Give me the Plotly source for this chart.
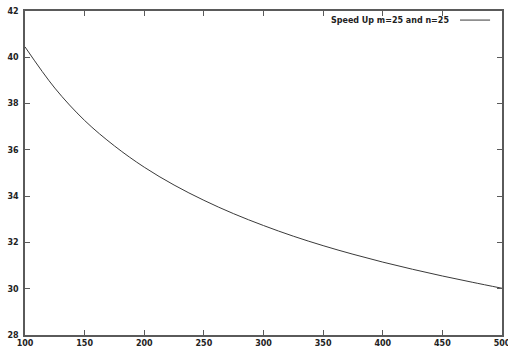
import plotly.graph_objects as go

x_vals = [100, 125, 150, 175, 200, 225, 250, 275, 300, 325, 350, 375, 400, 425, 450, 475, 500]
speedup = [40.45, 38.67, 37.27, 36.17, 35.25, 34.48, 33.82, 33.24, 32.73, 32.27, 31.86, 31.49, 31.15, 30.84, 30.55, 30.28, 30.02]
series_name = "Speed Up m=25 and n=25"
x_ticks = [100, 150, 200, 250, 300, 350, 400, 450, 500]
y_ticks = [28, 30, 32, 34, 36, 38, 40, 42]

line_color = "#3a3a3a"
axis_color = "#5a5a5a"
font = dict(family="DejaVu Sans, Liberation Sans, sans-serif", size=8, color="#222222", weight="bold")

fig = go.Figure()
fig.add_trace(go.Scatter(x=x_vals, y=speedup, mode="lines", name=series_name,
                         line=dict(color=line_color, width=1, shape="spline", smoothing=1.0),
                         showlegend=False))

axis_common = dict(showgrid=False, zeroline=False, showline=True, linecolor=axis_color,
                   linewidth=1.5, mirror="allticks", ticks="inside", ticklen=5,
                   tickcolor=axis_color, tickwidth=1, tickfont=font, automargin=False,
                   ticklabeloverflow="allow")
fig.update_xaxes(range=[100, 500], tickvals=x_ticks, ticktext=[str(v) for v in x_ticks], **axis_common)
fig.update_yaxes(range=[28, 42], tickvals=y_ticks, ticktext=[str(v) for v in y_ticks],
                 ticklabelstandoff=3, **axis_common)

fig.add_annotation(x=0.893, y=0.972, xref="paper", yref="paper", text=series_name,
                   showarrow=False, xanchor="right", yanchor="middle", font=font)
fig.add_shape(type="line", xref="paper", yref="paper", x0=0.912, x1=0.975, y0=0.972, y1=0.972,
              line=dict(color=line_color, width=1))

fig.update_layout(width=508, height=349, margin=dict(l=25, r=6, t=11, b=14),
                  plot_bgcolor="white", paper_bgcolor="white")
fig.write_html("out.html", config={"displayModeBar": False},
               post_script="document.body.style.margin='0';document.body.style.overflow='hidden';")
